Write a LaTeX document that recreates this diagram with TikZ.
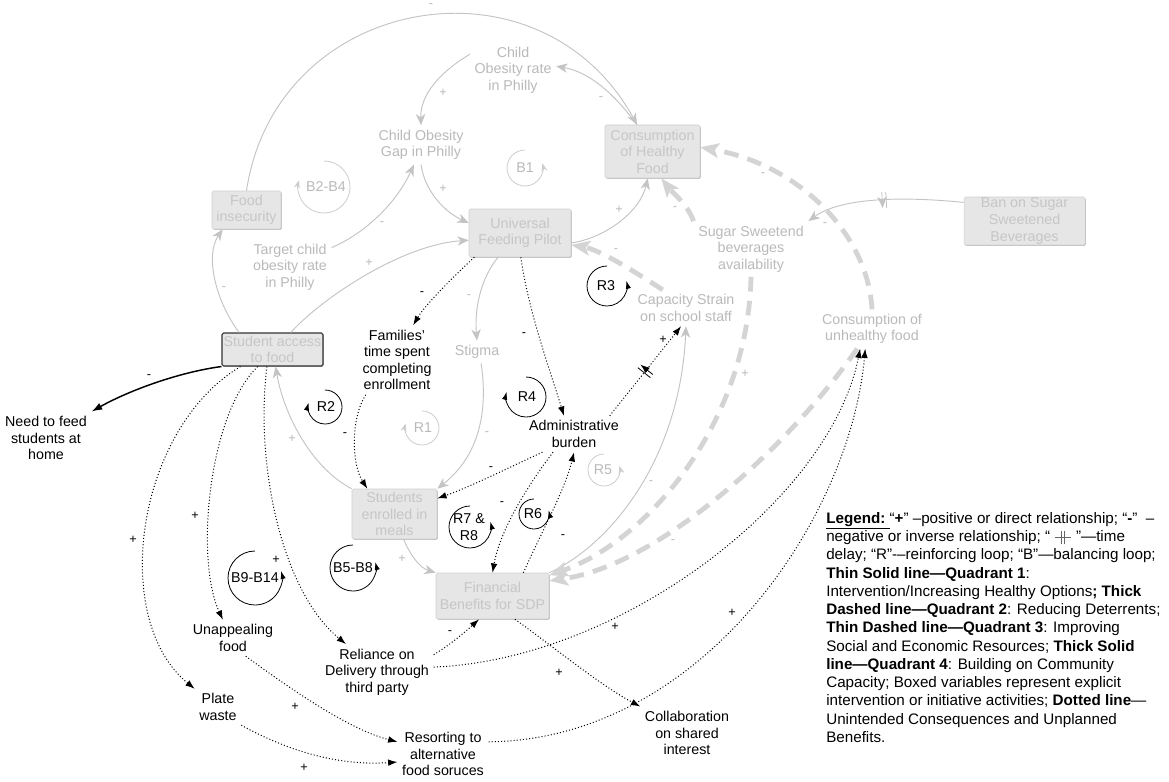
\documentclass[tikz,border=0pt]{standalone}
\usepackage{fontspec}
\setmainfont{Liberation Sans}
\usepackage{tikz}
\usetikzlibrary{arrows.meta,shadows,decorations.markings}

\definecolor{txtgray}{RGB}{186,186,186}
\definecolor{boxtxt}{RGB}{198,198,198}
\definecolor{boxfill}{RGB}{230,230,230}
\definecolor{boxline}{RGB}{208,208,208}
\definecolor{lnkgray}{RGB}{196,196,196}
\definecolor{dashgray}{RGB}{212,212,212}

\newcommand{\tdsym}{\tikz[baseline=-0.5ex]{\draw[black!60,line width=0.5pt] (0,0) -- (1.1em,0) (0.45em,-0.45em) -- (0.45em,0.45em) (0.65em,-0.45em) -- (0.65em,0.45em);}}

\tikzset{
  varfont/.style={font=\fontsize{10.7}{12.4}\selectfont},
  gbox/.style={varfont, draw=boxline, fill=boxfill, text=boxtxt, align=center, inner sep=0pt,
    rounded corners=1.2pt, drop shadow={shadow xshift=0.6pt, shadow yshift=-0.6pt, fill=black!25, opacity=1}},
  sabox/.style={gbox, draw=black!80, line width=0.8pt},
  gvar/.style={varfont, text=txtgray, align=center},
  bvar/.style={varfont, text=black, align=center},
  glink/.style={draw=lnkgray, line width=0.7pt, -{Stealth[length=8.5pt,width=7pt,inset=2.5pt]}},
  qtwo/.style={draw=dashgray, line width=3.6pt, dash pattern=on 11pt off 7pt, -{Stealth[length=14pt,width=11pt,inset=3pt]}},
  dotlink/.style={draw=black, line width=0.75pt, dash pattern=on 0.75pt off 1.6pt, -{Latex[length=7pt,width=5pt]}},
  qfour/.style={draw=black, line width=1.1pt, -{Latex[length=8pt,width=5.5pt]}},
  gsign/.style={font=\fontsize{9.5}{10}\selectfont, text=txtgray, inner sep=0pt},
  bsign/.style={font=\fontsize{9.5}{10}\selectfont, text=black, inner sep=0pt},
  gloop/.style={draw=lnkgray!85, line width=0.6pt, -{Stealth[length=6pt,width=4.5pt]}},
  bloop/.style={draw=black, line width=0.6pt, -{Latex[length=6pt,width=4pt]}},
  gltxt/.style={varfont, text=txtgray, inner sep=0pt, align=center},
  bltxt/.style={varfont, text=black, inner sep=0pt, align=center},
  legtxt/.style={font=\fontsize{11.4}{13.7}\selectfont, align=left, inner sep=0pt},
  tdelay/.style={postaction={decorate, decoration={markings, mark=at position 0.5 with
    {\draw[solid, line width=0.6pt, #1] (-1.5pt,-6pt) -- (-1.5pt,6pt) (1.5pt,-6pt) -- (1.5pt,6pt);}}}},
}

\begin{document}
\begin{tikzpicture}[x=0.75pt,y=0.75pt,yscale=-1,xscale=1]
    \fill[white] (0,0) rectangle (1169,781);
    \useasboundingbox (0,0) rectangle (1169,781);

    % Boxed variables
    \node[gbox, minimum width=51.75pt, minimum height=28.5pt] (fi) at (246.5,210) {Food\\insecurity};
    \node[gbox, minimum width=76.5pt, minimum height=36pt] (ufp) at (520,233) {Universal\\Feeding Pilot};
    \node[gbox, minimum width=71.25pt, minimum height=39.75pt] (chf) at (652.5,151.5) {Consumption\\of Healthy\\Food};
    \node[gbox, minimum width=90.75pt, minimum height=36pt] (ban) at (1024.5,221) {Ban on Sugar\\Sweetened\\Beverages};
    \node[sabox, minimum width=75.75pt, minimum height=24.75pt] (sa) at (272.5,349.5) {Student access\\to food};
    \node[gbox, minimum width=63.75pt, minimum height=37.5pt] (se) at (394.5,514) {Students\\enrolled in\\meals};
    \node[gbox, minimum width=84.75pt, minimum height=34.5pt] (fb) at (492.5,596) {Financial\\Benefits for SDP};

    % Text Node
    \node[gvar] (cobr) at (513,70) {Child\\Obesity rate\\in Philly};
    \node[gvar] (cogap) at (421,145) {Child Obesity\\Gap in Philly};
    \node[gvar] (tco) at (290,267) {Target child\\obesity rate\\in Philly};
    \node[gvar] (stig) at (477,352) {Stigma};
    \node[gvar] (strain) at (686,308) {Capacity Strain\\on school staff};
    \node[gvar] (ssb) at (751,249) {Sugar Sweetend\\beverages\\availability};
    \node[gvar] (cuf) at (872,329) {Consumption of\\unhealthy food};
    \node[bvar] (fam) at (397,360) {Families'\\time spent\\completing\\enrollment};
    \node[bvar] (adm) at (574,434) {Administrative\\burden};
    \node[bvar] (need) at (46,438) {Need to feed\\students at\\home};
    \node[bvar] (unap) at (233,638) {Unappealing\\food};
    \node[bvar] (rel) at (377,672) {Reliance on\\Delivery through\\third party};
    \node[bvar] (plate) at (218,707) {Plate\\waste};
    \node[bvar] (res) at (443,754) {Resorting to\\alternative\\food soruces};
    \node[bvar] (coll) at (687,733) {Collaboration\\on shared\\interest};

    %Thin solid lines
    \draw[glink] (fi.north) .. controls (276,-6) and (540,-52) .. (chf.120);
    \draw[glink] (chf.120) .. controls (615,95) and (590,72) .. (cobr.5);
    \draw[glink] (cobr.160) .. controls (440,72) and (420,95) .. (cogap.north);
    \draw[glink] (cogap.south) .. controls (425,192) and (445,212) .. (ufp.169);
    \draw[glink] (tco.25) .. controls (368,232) and (398,200) .. (cogap.250);
    \draw[glink] (sa.43) .. controls (320,300) and (400,245) .. (ufp.188);
    \draw[glink] (sa.153) .. controls (215,300) and (205,255) .. (fi.219);
    \draw[glink] (ufp.228) .. controls (483,275) and (474,305) .. (stig.north);
    \draw[glink] (stig.-70) .. controls (488,410) and (480,455) .. (se.north east);
    \draw[glink] (se.north west) .. controls (315,470) and (285,420) .. (sa.-80);
    \draw[glink] (se.-70) .. controls (410,555) and (420,568) .. (fb.north west);
    \draw[glink] (fb.north east) .. controls (610,545) and (680,460) .. (strain.south);
    \draw[glink] (ufp.-11) .. controls (605,238) and (640,212) .. (chf.-100);
    \draw[glink, tdelay=lnkgray] (ban.163) .. controls (900,196) and (840,198) .. (ssb.north east);

    %Thick dashed lines
    \draw[qtwo] (strain.142) .. controls (632,270) and (600,250) .. (ufp.-13);
    \draw[qtwo] (ssb.north west) .. controls (688,205) and (672,192) .. (chf.-72);
    \draw[qtwo] (cuf.north) .. controls (868,235) and (800,165) .. (chf.5);
    \draw[qtwo] (ssb.south) .. controls (748,420) and (650,540) .. (fb.20);
    \draw[qtwo] (cuf.233) .. controls (790,445) and (660,565) .. (fb.15);

    %Thick solid line
    \draw[qfour] (sa.south west) .. controls (180,372) and (130,390) .. (need.north east);

    %Dotted lines
    \draw[dotlink] (ufp.208) .. controls (455,275) and (425,305) .. (fam.65);
    \draw[dotlink] (fam.228) .. controls (350,420) and (352,465) .. (se.137);
    \draw[dotlink] (ufp.-88) .. controls (528,310) and (550,370) .. (adm.119);
    \draw[dotlink, tdelay=black] (adm.27) -- (strain.-105);
    \draw[dotlink] (adm.210) .. controls (510,467) and (470,487) .. (se.20);
    \draw[dotlink] (adm.221) .. controls (528,485) and (500,530) .. (fb.north);
    \draw[dotlink] (fb.37) .. controls (540,535) and (565,490) .. (adm.south);
    \draw[dotlink] (sa.208) .. controls (135,430) and (110,620) .. (plate.north west);
    \draw[dotlink] (sa.229) .. controls (208,415) and (195,560) .. (unap.119);
    \draw[dotlink] (sa.252) .. controls (255,460) and (280,590) .. (rel.138);
    \draw[dotlink] (rel.17) .. controls (450,645) and (465,632) .. (fb.-120);
    \draw[dotlink] (rel.5) .. controls (620,660) and (830,500) .. (cuf.239);
    \draw[dotlink] (res.15) .. controls (700,740) and (850,520) .. (cuf.251);
    \draw[dotlink] (unap.-55) .. controls (292,690) and (350,730) .. (res.165);
    \draw[dotlink] (plate.south east) .. controls (290,752) and (340,766) .. (res.-170);
    \draw[dotlink] (fb.-46) .. controls (555,648) and (600,685) .. (coll.north west);

    % Signs on gray links
    \node[gsign] (g1) at (431,6) {-};
    \node[gsign] (g2) at (601,99) {-};
    \node[gsign] (g3) at (443,93) {+};
    \node[gsign] (g4) at (443,189) {+};
    \node[gsign] (g5) at (382,224) {-};
    \node[gsign] (g6) at (369,263) {+};
    \node[gsign] (g7) at (224,289) {-};
    \node[gsign] (g8) at (469,297) {-};
    \node[gsign] (g9) at (487,434) {-};
    \node[gsign] (g10) at (292,439) {+};
    \node[gsign] (g11) at (402,559) {+};
    \node[gsign] (g12) at (619,210) {+};
    \node[gsign] (g13) at (675,209) {-};
    \node[gsign] (g14) at (825,225) {-};
    \node[gsign] (g15) at (763,175) {-};
    \node[gsign] (g16) at (616,251) {-};
    \node[gsign] (g17) at (745,374) {+};
    \node[gsign] (g18) at (651,483) {-};
    \node[gsign] (g19) at (673,542) {-};

    % Signs on black links
    \node[bsign] (b1) at (149,377) {-};
    \node[bsign] (b2) at (133,540) {+};
    \node[bsign] (b3) at (195,516) {+};
    \node[bsign] (b4) at (276,560) {+};
    \node[bsign] (b5) at (422,294) {-};
    \node[bsign] (b6) at (345,435) {-};
    \node[bsign] (b7) at (524,335) {-};
    \node[bsign] (b8) at (663,340) {+};
    \node[bsign] (b9) at (491,469) {-};
    \node[bsign] (b10) at (502,504) {-};
    \node[bsign] (b11) at (563,537) {-};
    \node[bsign] (b12) at (450,633) {-};
    \node[bsign] (b13) at (615,627) {+};
    \node[bsign] (b14) at (732,613) {+};
    \node[bsign] (b15) at (295,707) {+};
    \node[bsign] (b16) at (304,768) {+};
    \node[bsign] (b17) at (559,673) {+};

    % Loops
    \draw[gloop] (525,168) ++(-90:18) arc[start angle=-90, end angle=-375, radius=18];
    \node[gltxt] (lB1) at (525,168) {B1};
    \draw[gloop] (324,187) ++(-90:26) arc[start angle=-90, end angle=195, radius=26];
    \node[gltxt] (lB2) at (326,187) {B2-B4};
    \draw[gloop] (422,428) ++(-90:17) arc[start angle=-90, end angle=195, radius=17];
    \node[gltxt] (lR1) at (423,428) {R1};
    \draw[bloop] (325,407) ++(-90:17) arc[start angle=-90, end angle=195, radius=17];
    \node[bltxt] (lR2) at (326,407) {R2};
    \draw[bloop] (607,286) ++(-90:20) arc[start angle=-90, end angle=-375, radius=20];
    \node[bltxt] (lR3) at (606,286) {R3};
    \draw[bloop] (526,397) ++(-90:20) arc[start angle=-90, end angle=195, radius=20];
    \node[bltxt] (lR4) at (527,397) {R4};
    \draw[gloop] (604,470) ++(-90:16) arc[start angle=-90, end angle=-375, radius=16];
    \node[gltxt] (lR5) at (603,470) {R5};
    \draw[bloop] (534,514) ++(-90:15) arc[start angle=-90, end angle=-375, radius=15];
    \node[bltxt] (lR6) at (533,514) {R6};
    \draw[bloop] (470,527) ++(-90:21) arc[start angle=-90, end angle=-375, radius=21];
    \node[bltxt] (lR7) at (469,527) {R7 \&\\R8};
    \draw[bloop] (353,568) ++(-90:23) arc[start angle=-90, end angle=-375, radius=23];
    \node[bltxt] (lB5) at (353,568) {B5-B8};
    \draw[bloop] (255,578) ++(-90:27) arc[start angle=-90, end angle=-375, radius=27];
    \node[bltxt] (lB9) at (255,578) {B9-B14};

    % Legend
    \node[legtxt, anchor=north west] (legend) at (826,512) {%
\underline{\textbf{Legend:}\ }“\textbf{+}” –positive or direct relationship; “\textbf{-}”\ \ –\\
negative or inverse relationship; “ \tdsym\ ”—time\\
delay; “R”-–reinforcing loop; “B”—balancing loop;\\
\textbf{Thin Solid line—Quadrant 1}:\\
Intervention/Increasing Healthy Options\textbf{; Thick}\\
\textbf{Dashed line—Quadrant 2}: Reducing Deterrents;\\
\textbf{Thin Dashed line—Quadrant 3}: Improving\\
Social and Economic Resources; \textbf{Thick Solid}\\
\textbf{line—Quadrant 4}: Building on Community\\
Capacity; Boxed variables represent explicit\\
intervention or initiative activities; \textbf{Dotted line}—\\
Unintended Consequences and Unplanned\\
Benefits.};

\end{tikzpicture}
\end{document}
